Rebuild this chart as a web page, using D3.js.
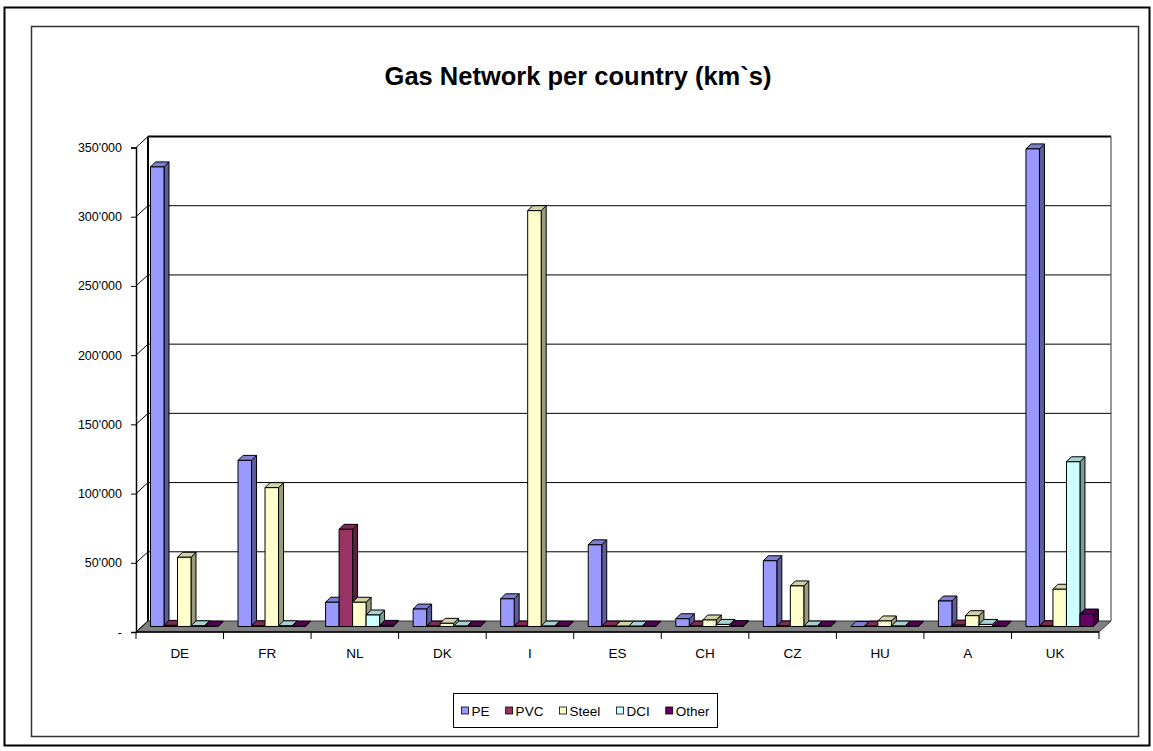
<!DOCTYPE html>
<html>
<head>
<meta charset="utf-8">
<script src="https://cdn.jsdelivr.net/npm/d3@7"></script>
<style>
  html, body { margin: 0; padding: 0; background: #fff; }
  svg { display: block; font-family: "Liberation Sans", Arial, sans-serif; }
</style>
</head>
<body>
<svg id="chart" width="1153" height="751"></svg>
<script>
// Gas network length per country, km of pipe by material
const countries = ["DE", "FR", "NL", "DK", "I", "ES", "CH", "CZ", "HU", "A", "UK"];
const materials = ["PE", "PVC", "Steel", "DCI", "Other"];
const colors = ["#9999FF", "#993366", "#FFFFCC", "#CCFFFF", "#660066"];

const pe    = [332000, 120000, 17500, 12600, 20000, 59000, 5600, 47500,    0, 18400, 345000];
const pvc   = [   800,    500, 70200,   300,   300,   300,  300,   400,  200,  1000,    500];
const steel = [ 50000, 100300, 17500,  2300, 300400,   200, 4700, 29300, 4000,  7800,  26900];
const dci   = [   500,    500,  8300,   300,   300,   200, 1500,   300,  300,  1500, 119000];
const other = [   200,    200,   800,   200,   200,   200,  600,   200,  200,   200,   9000];
const seriesValues = [pe, pvc, steel, dci, other];

const yTicks = [0, 50000, 100000, 150000, 200000, 250000, 300000, 350000];

const svg = d3.select("#chart");

// frames
svg.append("rect").attr("x", 4.5).attr("y", 7.5).attr("width", 1145).attr("height", 738)
  .attr("fill", "none").attr("stroke", "#000").attr("stroke-width", 2);
svg.append("rect").attr("x", 31.5).attr("y", 26.5).attr("width", 1107).attr("height", 710)
  .attr("fill", "none").attr("stroke", "#333").attr("stroke-width", 1.5);

// title
svg.append("text").attr("x", 578).attr("y", 85).attr("text-anchor", "middle")
  .attr("font-size", 25.5).attr("font-weight", "bold").text("Gas Network per country (km`s)");

// scales (front plane)
const x = d3.scaleBand().domain(countries).range([136, 1099]).paddingInner(0).paddingOuter(0);
const y = d3.scaleLinear().domain([0, 350000]).range([632, 147.5]);
const wallDx = 12, wallDy = -11;       // depth of the floor / back wall
const barDx = 5.5, barDy = -5.5;       // front face of the bars
const barDepthX = 5, barDepthY = -5;   // thickness of each bar
const xs = d3.scaleBand().domain(materials).range([9, 9 + 67.5]);

const fmt = d3.formatLocale({ decimal: ".", thousands: "'", grouping: [3], currency: ["", ""] }).format(",d");
const tickFmt = v => v === 0 ? "-" : fmt(v);

const x0 = x.range()[0], x1 = x.range()[1];
const yBack = v => y(v) + wallDy;

// floor
svg.append("path")
  .attr("d", `M${x0},${y(0)} L${x1},${y(0)} L${x1 + wallDx},${yBack(0)} L${x0 + wallDx},${yBack(0)} Z`)
  .attr("fill", "#808080").attr("stroke", "#333").attr("stroke-width", 1);

// back wall gridlines
svg.append("g").selectAll("line").data(yTicks.filter(v => v > 0)).join("line")
  .attr("x1", x0 + wallDx).attr("x2", x1 + wallDx)
  .attr("y1", d => yBack(d)).attr("y2", d => yBack(d))
  .attr("stroke", "#000").attr("stroke-width", 1);

// wall edges
svg.append("line").attr("x1", x0 + wallDx).attr("x2", x0 + wallDx)
  .attr("y1", yBack(350000)).attr("y2", yBack(0)).attr("stroke", "#000").attr("stroke-width", 2);
svg.append("line").attr("x1", x0 + wallDx).attr("x2", x1 + wallDx)
  .attr("y1", yBack(350000)).attr("y2", yBack(350000)).attr("stroke", "#000").attr("stroke-width", 2);
svg.append("line").attr("x1", x1 + wallDx).attr("x2", x1 + wallDx)
  .attr("y1", yBack(350000)).attr("y2", yBack(0)).attr("stroke", "#555").attr("stroke-width", 1.2);

// side connectors from value axis to back wall
svg.append("g").selectAll("line").data(yTicks).join("line")
  .attr("x1", x0).attr("y1", d => y(d))
  .attr("x2", x0 + wallDx).attr("y2", d => yBack(d))
  .attr("stroke", "#000").attr("stroke-width", 1);

// bars, drawn left to right so neighbours cover side faces
const bars = [];
countries.forEach((c, ci) => {
  materials.forEach((m, si) => {
    bars.push({ c, m, si, v: seriesValues[si][ci] });
  });
});

const barG = svg.append("g");
bars.forEach(b => {
  const base = d3.color(colors[b.si]);
  const left = x(b.c) + barDx + xs(b.m);
  const w = xs.bandwidth();
  const top = y(b.v) + barDy;
  const bottom = y(0) + barDy;
  const g = barG.append("g").attr("stroke", "#000").attr("stroke-width", 1).attr("stroke-linejoin", "round");
  // side face
  g.append("path")
    .attr("d", `M${left + w},${bottom} L${left + w + barDepthX},${bottom + barDepthY} L${left + w + barDepthX},${top + barDepthY} L${left + w},${top} Z`)
    .attr("fill", base.darker(1.4));
  // top face
  g.append("path")
    .attr("d", `M${left},${top} L${left + barDepthX},${top + barDepthY} L${left + w + barDepthX},${top + barDepthY} L${left + w},${top} Z`)
    .attr("fill", base.darker(0.55));
  // front face
  g.append("rect").attr("x", left).attr("y", top).attr("width", w).attr("height", Math.max(0, bottom - top))
    .attr("fill", base.formatHex());
});

// value axis
const yAxis = svg.append("g").attr("transform", `translate(${x0},0)`)
  .call(d3.axisLeft(y).tickValues(yTicks).tickFormat(tickFmt).tickSize(5).tickPadding(9));
yAxis.selectAll("text").attr("font-size", 12.5).attr("font-family", "Liberation Sans, Arial, sans-serif").attr("fill", "#000");
yAxis.selectAll("line, path").attr("stroke", "#000");
yAxis.select("path.domain").attr("stroke-width", 1.5);

// category axis
const xAxisG = svg.append("g");
xAxisG.append("line").attr("x1", x0).attr("x2", x1).attr("y1", y(0)).attr("y2", y(0))
  .attr("stroke", "#000").attr("stroke-width", 1.5);
const boundaries = countries.map(c => x(c)).concat([x1]);
xAxisG.selectAll("line.tick").data(boundaries).join("line").attr("class", "tick")
  .attr("x1", d => d).attr("x2", d => d).attr("y1", y(0)).attr("y2", y(0) + 7)
  .attr("stroke", "#000").attr("stroke-width", 1);
xAxisG.selectAll("text").data(countries).join("text")
  .attr("x", d => x(d) + x.bandwidth() / 2).attr("y", 658)
  .attr("text-anchor", "middle").attr("font-size", 13.5).text(d => d);

// legend
const legend = svg.append("g");
const lx0 = 453.5, ly0 = 693.5, lw = 264, lh = 34;
legend.append("rect").attr("x", lx0).attr("y", ly0).attr("width", lw).attr("height", lh)
  .attr("fill", "#fff").attr("stroke", "#000").attr("stroke-width", 1);
const items = legend.selectAll("g.item").data(materials).join("g").attr("class", "item");
items.append("rect").attr("width", 7).attr("height", 7).attr("y", -4.5)
  .attr("fill", (d, i) => colors[i]).attr("stroke", "#000").attr("stroke-width", 0.8);
items.append("text").attr("x", 10).attr("y", 0).attr("dy", "0.36em").attr("font-size", 13.5).text(d => d);
const widths = [];
items.each(function () { widths.push(10 + this.querySelector("text").getComputedTextLength()); });
const totalW = d3.sum(widths);
const gap = (lw - 16 - totalW) / (materials.length - 1);
let cx = lx0 + 8;
items.attr("transform", (d, i) => {
  const t = `translate(${cx},${ly0 + lh / 2 + 1})`;
  cx += widths[i] + gap;
  return t;
});
</script>
</body>
</html>
